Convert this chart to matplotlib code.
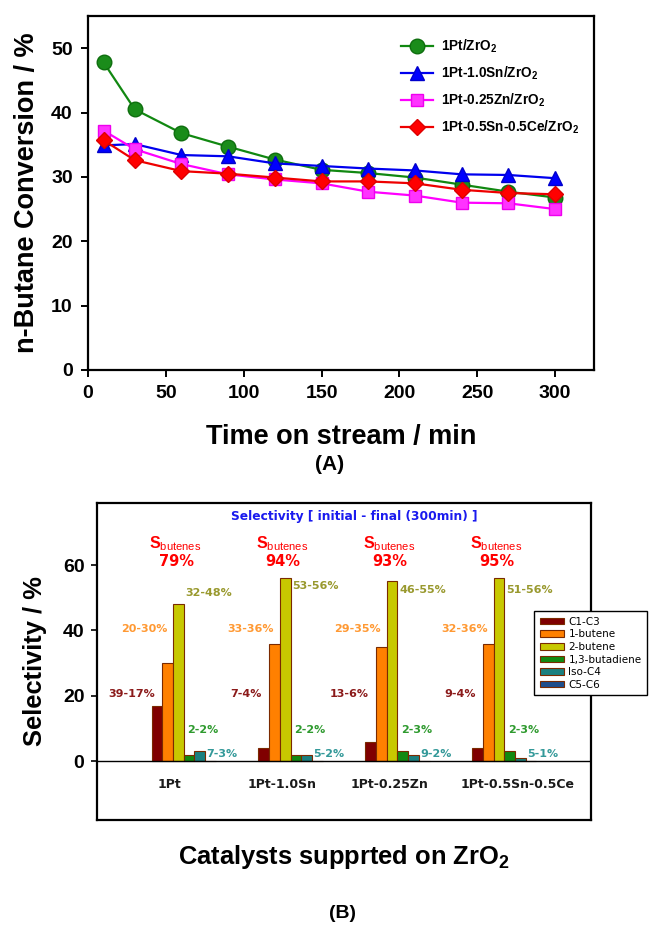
import matplotlib
matplotlib.use('Agg')
import matplotlib.pyplot as plt
import numpy as np
from matplotlib.patches import Patch

plt.rcParams['font.family'] = ['Liberation Sans', 'DejaVu Sans']
plt.rcParams['mathtext.fontset'] = 'custom'
plt.rcParams['mathtext.rm'] = 'Liberation Sans'
plt.rcParams['mathtext.bf'] = 'Liberation Sans:bold'
plt.rcParams['mathtext.it'] = 'Liberation Sans:italic'

# ---------------- data: panel A ----------------
time_min = [10, 30, 60, 90, 120, 150, 180, 210, 240, 270, 300]
conv_pt = [47.8, 40.5, 36.8, 34.7, 32.7, 31.1, 30.6, 29.9, 28.8, 27.7, 26.8]
conv_sn = [34.9, 35.1, 33.4, 33.2, 32.1, 31.7, 31.3, 31.0, 30.4, 30.3, 29.8]
conv_zn = [37.2, 34.3, 32.0, 30.4, 29.6, 29.0, 27.7, 27.1, 26.0, 25.9, 25.0]
conv_snce = [35.7, 32.6, 30.9, 30.5, 29.9, 29.3, 29.3, 29.0, 28.0, 27.5, 27.3]
series_labels = [r'1Pt/ZrO$_\mathbf{2}$', r'1Pt-1.0Sn/ZrO$_\mathbf{2}$',
                 r'1Pt-0.25Zn/ZrO$_\mathbf{2}$', r'1Pt-0.5Sn-0.5Ce/ZrO$_\mathbf{2}$']

# ---------------- data: panel B ----------------
catalysts = ['1Pt', '1Pt-1.0Sn', '1Pt-0.25Zn', '1Pt-0.5Sn-0.5Ce']
products = ['C1-C3', '1-butene', '2-butene', '1,3-butadiene', 'Iso-C4', 'C5-C6']
sel_initial = {
    'C1-C3': [39, 7, 13, 9],
    '1-butene': [20, 33, 29, 32],
    '2-butene': [32, 53, 46, 51],
    '1,3-butadiene': [2, 2, 2, 2],
    'Iso-C4': [7, 5, 9, 5],
}
sel_final = {
    'C1-C3': [17, 4, 6, 4],
    '1-butene': [30, 36, 35, 36],
    '2-butene': [48, 56, 55, 56],
    '1,3-butadiene': [2, 2, 3, 3],
    'Iso-C4': [3, 2, 2, 1],
    'C5-C6': [0, 0, 0, 0],
}
s_butenes = [79, 94, 93, 95]

W, H = 658, 934
fig = plt.figure(figsize=(W / 100, H / 100), dpi=100)


def fx(px):
    return px / W


def fy(py):
    return 1 - py / H


# ================= Panel A =================
axA = fig.add_axes([fx(88), fy(370), fx(594) - fx(88), fy(16) - fy(370)])
styles = [
    dict(color='#118811', marker='o', ms=10.5, mfc='#1a8c1a', mec='#0e6e0e'),
    dict(color='#0000ee', marker='^', ms=10.5, mfc='#0000ff', mec='#0000cc'),
    dict(color='#ff00ff', marker='s', ms=9, mfc='#ff33ff', mec='#ee00ee'),
    dict(color='#ee0000', marker='D', ms=8.5, mfc='#ff0000', mec='#dd0000'),
]
for vals, lab, st in zip([conv_pt, conv_sn, conv_zn, conv_snce], series_labels, styles):
    axA.plot(time_min, vals, lw=1.6, label=lab, **st)

axA.set_xlim(0, 325)
axA.set_ylim(0, 55)
axA.set_xticks(np.arange(0, 301, 50))
axA.set_yticks(np.arange(0, 51, 10))
for sp in axA.spines.values():
    sp.set_linewidth(1.6)
axA.tick_params(direction='out', length=5, width=1.4, labelsize=14, pad=6)
for t in axA.get_xticklabels() + axA.get_yticklabels():
    t.set_fontweight('bold')
leg = axA.legend(loc='upper left', bbox_to_anchor=(fx(396), fy(32)),
                 bbox_transform=fig.transFigure, frameon=False,
                 prop=dict(weight='bold', size=9.8), handlelength=2.3,
                 labelspacing=0.72, borderaxespad=0, handletextpad=0.6)

fig.text(fx(27), fy(193), 'n-Butane Conversion / %', rotation=90, ha='center',
         va='center', fontsize=19.5, fontweight='bold')
fig.text(fx(341), fy(437), 'Time on stream / min', ha='center', va='center',
         fontsize=19.5, fontweight='bold')
fig.text(fx(330), fy(465), '(A)', ha='center', va='center',
         fontsize=15, fontweight='bold')

# ================= Panel B =================
axB = fig.add_axes([fx(97), fy(820), fx(591) - fx(97), fy(503) - fy(820)])
colors = ['#800000', '#ff8000', '#c8c800', '#128a12', '#1a8080', '#1f4e8c']
label_colors = {'C1-C3': '#8b1a1a', '1-butene': '#ff9933', '2-butene': '#99992e',
                '1,3-butadiene': '#2e9a2e', 'Iso-C4': '#339999'}
x = np.arange(len(catalysts))
bw = 0.1
for j, prod in enumerate(products):
    axB.bar(x + (j - 2.5) * bw, sel_final[prod], bw, color=colors[j],
            edgecolor='#7a2a00', linewidth=0.8, label=prod, zorder=3)

axB.axhline(0, color='black', lw=1.0, zorder=4)
axB.set_xlim(-0.81, 3.81)
axB.set_ylim(-18, 79)
axB.set_xticks([])
axB.set_yticks([0, 20, 40, 60])
for sp in axB.spines.values():
    sp.set_linewidth(1.6)
axB.tick_params(axis='y', direction='out', length=4, width=1.2, labelsize=14, pad=5)
for t in axB.get_yticklabels():
    t.set_fontweight('bold')

# value labels: (dx, y, ha)
lab_fmt = {
    'C1-C3': (-0.27, [20.5] * 4, 'right'),
    '1-butene': (-0.37, [40.5] * 4, 'center'),
    '2-butene': (0.02, [51.5, 53.5, 52.5, 52.5], 'left'),
    '1,3-butadiene': (0.18, [9.5] * 4, 'center'),
    'Iso-C4': (0.21, [2.2] * 4, 'left'),
}
for prod, (dx, ys, ha) in lab_fmt.items():
    for i in range(len(catalysts)):
        axB.text(x[i] + dx, ys[i], f'{sel_initial[prod][i]}-{sel_final[prod][i]}%',
                 ha=ha, va='center', fontsize=8, fontweight='bold',
                 color=label_colors[prod], family='DejaVu Sans')

for i in range(len(catalysts)):
    axB.text(x[i] - 0.08, 66.5, r'$\mathbf{S}_{\mathrm{butenes}}$', ha='center',
             va='center', fontsize=11.5, color='#ff0000')
    axB.text(x[i] - 0.07, 61.2, f'{s_butenes[i]}%', ha='center', va='center',
             fontsize=10.5, fontweight='bold', color='#ff0000', family='DejaVu Sans')

label_dx = [-0.13, -0.08, -0.07, 0.12]
for i, c in enumerate(catalysts):
    axB.text(x[i] + label_dx[i], -7, c, ha='center', va='center', fontsize=9,
             fontweight='bold', color='#1a1a1a', family='DejaVu Sans')

axB.text(1.6, 75, 'Selectivity [ initial - final (300min) ]', ha='center',
         va='center', fontsize=8.8, fontweight='bold', color='#1a1aee',
         family='DejaVu Sans')

handles = [Patch(facecolor=colors[j], edgecolor='#7a2a00', linewidth=0.8)
           for j in range(len(products))]
legB = axB.legend(handles, products, loc='upper left',
                  bbox_to_anchor=(fx(534), fy(611)), bbox_transform=fig.transFigure,
                  fancybox=False, edgecolor='black', framealpha=1,
                  prop=dict(family='DejaVu Sans', size=7.5), handlelength=2.3,
                  handleheight=0.6, labelspacing=0.25, borderaxespad=0,
                  handletextpad=0.45, borderpad=0.55)
legB.get_frame().set_linewidth(1.0)
legB.set_zorder(10)

fig.text(fx(35), fy(661), 'Selectivity / %', rotation=90, ha='center',
         va='center', fontsize=18.4, fontweight='bold')
fig.text(fx(344), fy(857), r'Catalysts supprted on ZrO$_\mathbf{2}$', ha='center',
         va='center', fontsize=18.4, fontweight='bold')
fig.text(fx(343), fy(913), '(B)', ha='center', va='center',
         fontsize=14, fontweight='bold')

fig.savefig('out.png', dpi=100, facecolor='white')
